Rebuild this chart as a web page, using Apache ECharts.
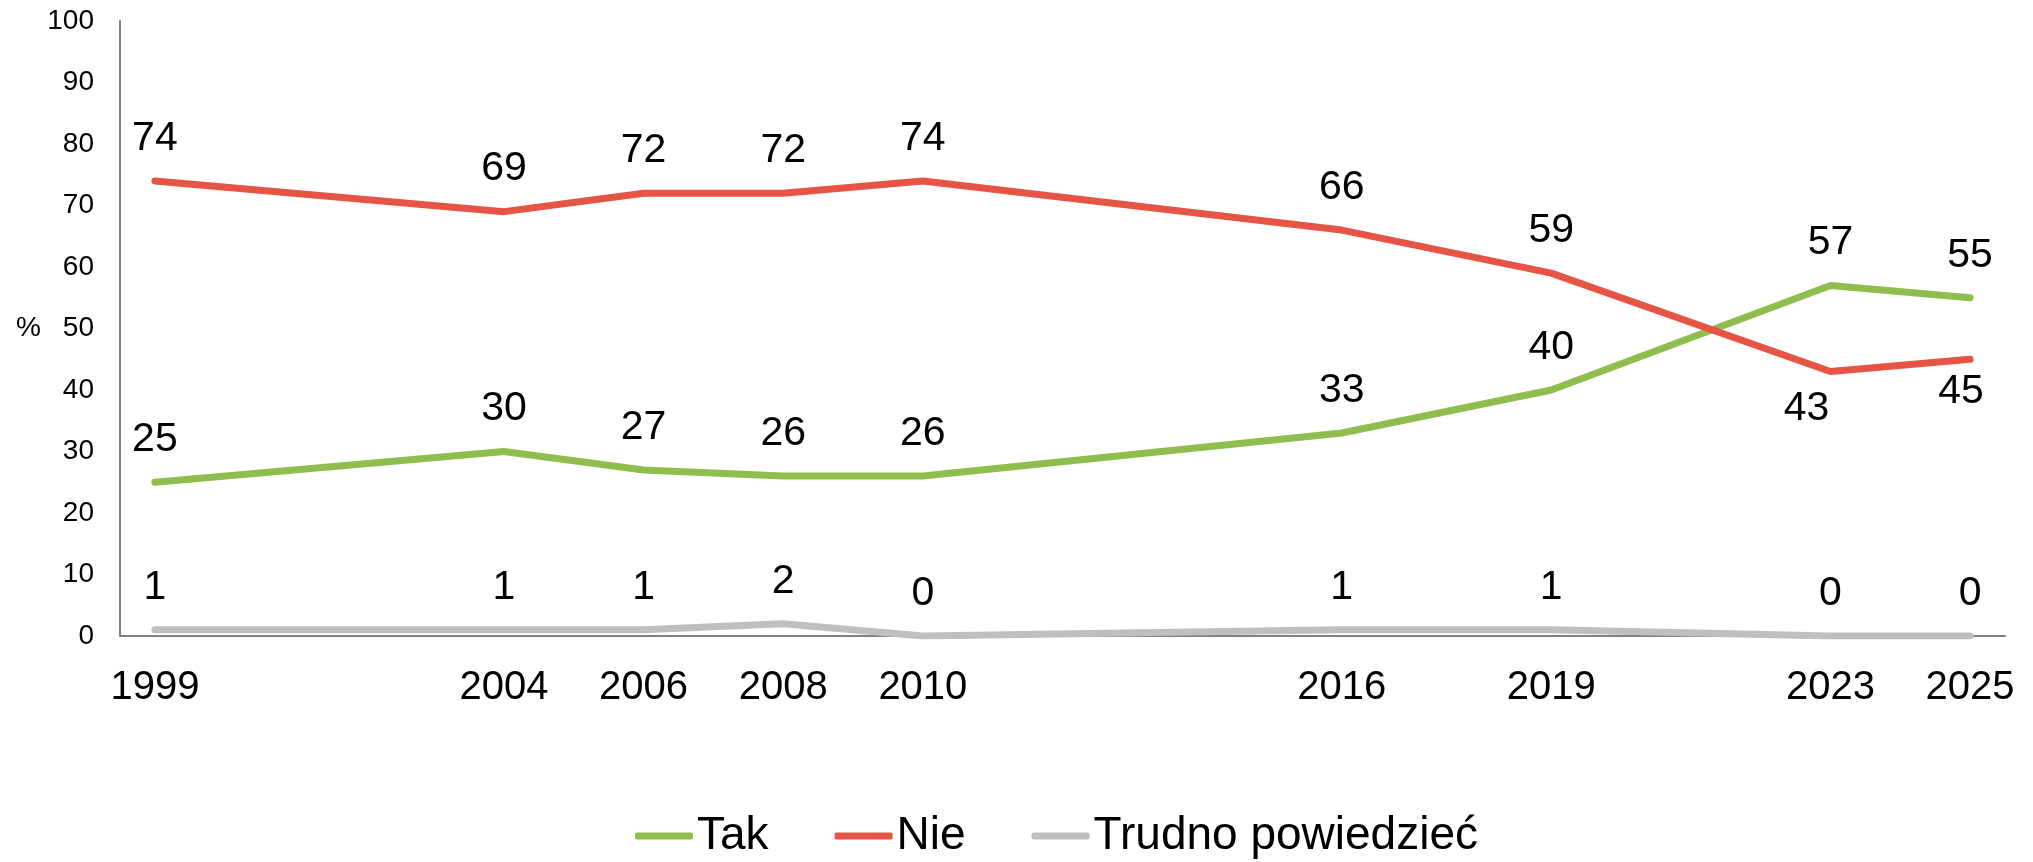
<!DOCTYPE html>
<html>
<head>
<meta charset="utf-8">
<script src="https://cdn.jsdelivr.net/npm/echarts@6/dist/echarts.min.js"></script>
<style>
html,body{margin:0;padding:0;background:#fff;}
#chart{width:2033px;height:862px;}
</style>
</head>
<body>
<div id="chart"></div>
<script>
const years = [1999, 2004, 2006, 2008, 2010, 2016, 2019, 2023, 2025];
const tak = [25, 30, 27, 26, 26, 33, 40, 57, 55];
const nie = [74, 69, 72, 72, 74, 66, 59, 43, 45];
const trudno = [1, 1, 1, 2, 0, 1, 1, 0, 0];
const seriesNames = ['Tak', 'Nie', 'Trudno powiedzieć'];
const yTicks = [0, 10, 20, 30, 40, 50, 60, 70, 80, 90, 100];

const FONT = "'Liberation Sans', Arial, sans-serif";
const colors = ['#8FBE4E', '#E65445', '#BFBFBF'];

function pairs(vals) {
  return years.map((y, i) => [y, vals[i]]);
}
// Nie labels for the last two years sit below the line
const nieData = pairs(nie).map((p, i) => {
  if (years[i] === 2023) return { value: p, label: { position: 'bottom', distance: 17, offset: [-24, 0] } };
  if (years[i] === 2025) return { value: p, label: { position: 'bottom', distance: 12, offset: [-9, 0] } };
  return { value: p };
});

function lineSeries(name, data, color) {
  return {
    name: name,
    type: 'line',
    data: data,
    symbol: 'circle',
    symbolSize: 0,
    showSymbol: true,
    showAllSymbol: true,
    color: color,
    itemStyle: { color: color },
    lineStyle: { width: 7, color: color, cap: 'round', join: 'round' },
    label: {
      show: true,
      position: 'top',
      distance: 22,
      fontSize: 41,
      fontFamily: FONT,
      color: '#000',
      formatter: p => p.value[1]
    },
    emphasis: { disabled: true },
    animation: false
  };
}

const chart = echarts.init(document.getElementById('chart'));
chart.setOption({
  backgroundColor: '#fff',
  animation: false,
  grid: { left: 120, right: 28, top: 21, bottom: 226 },
  xAxis: {
    type: 'value',
    min: 1998.5,
    max: 2025.5,
    axisLine: { show: true, lineStyle: { color: '#808080', width: 2 } },
    axisTick: { show: false },
    splitLine: { show: false },
    axisLabel: {
      customValues: years,
      fontSize: 40,
      fontFamily: FONT,
      color: '#000',
      margin: 32,
      formatter: v => String(v)
    }
  },
  yAxis: {
    type: 'value',
    min: 0,
    max: 100,
    interval: 10,
    name: '%',
    nameLocation: 'middle',
    nameRotate: 0,
    nameGap: 79,
    nameTextStyle: { fontSize: 28, fontFamily: FONT, color: '#000' },
    axisLine: { show: true, lineStyle: { color: '#808080', width: 2 } },
    axisTick: { show: false },
    splitLine: { show: false },
    axisLabel: {
      customValues: yTicks,
      fontSize: 28,
      fontFamily: FONT,
      color: '#000',
      margin: 26
    }
  },
  legend: {
    data: seriesNames,
    left: 635,
    top: 813,
    padding: 0,
    icon: 'roundRect',
    itemWidth: 58,
    itemHeight: 7,
    itemGap: 66,
    itemStyle: { opacity: 1 },
    textStyle: { fontSize: 46, fontFamily: FONT, color: '#000', padding: [0, 0, 0, -1] }
  },
  series: [
    lineSeries(seriesNames[0], pairs(tak), colors[0]),
    lineSeries(seriesNames[1], nieData, colors[1]),
    lineSeries(seriesNames[2], pairs(trudno), colors[2])
  ]
});
</script>
</body>
</html>
